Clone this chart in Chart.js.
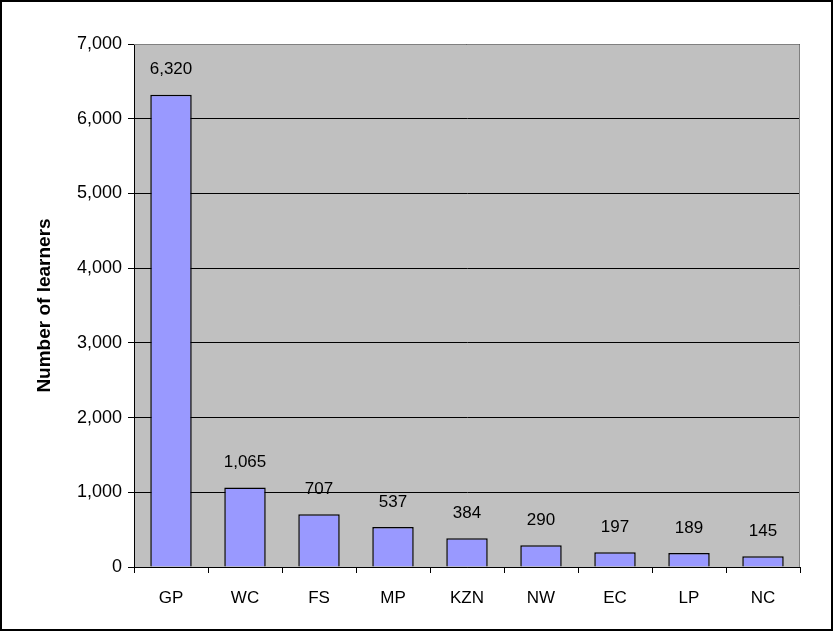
<!DOCTYPE html>
<html>
<head>
<meta charset="utf-8">
<script src="https://cdn.jsdelivr.net/npm/chart.js@4/dist/chart.umd.min.js"></script>
<style>
  html, body { margin: 0; padding: 0; background: #ffffff; }
  #wrap { width: 833px; height: 631px; position: relative; }
</style>
</head>
<body>
<div id="wrap"><canvas id="chart" width="833" height="631"></canvas></div>
<script>
// Learners per province
const provinces = ['GP', 'WC', 'FS', 'MP', 'KZN', 'NW', 'EC', 'LP', 'NC'];
const learners = [6320, 1065, 707, 537, 384, 290, 197, 189, 145];
const yTicks = [0, 1000, 2000, 3000, 4000, 5000, 6000, 7000];
const yTitle = 'Number of learners';

const FONT = '"Liberation Sans", Arial, sans-serif';
const fmt = v => v.toLocaleString('en-US');

// Gray plot background, plot frame, outer frame and value labels
const framePlugin = {
  id: 'frame',
  beforeDraw(chart) {
    const { ctx, chartArea: a } = chart;
    ctx.save();
    ctx.fillStyle = '#ffffff';
    ctx.fillRect(0, 0, chart.width, chart.height);
    ctx.fillStyle = '#c0c0c0';
    ctx.fillRect(a.left, a.top, a.right - a.left, a.bottom - a.top);
    ctx.restore();
  },
  afterDatasetsDraw(chart) {
    const { ctx, chartArea: a } = chart;
    ctx.save();
    ctx.strokeStyle = '#808080';
    ctx.lineWidth = 1;
    ctx.beginPath();
    ctx.moveTo(a.left, a.top + 0.5);
    ctx.lineTo(a.right - 0.5, a.top + 0.5);
    ctx.lineTo(a.right - 0.5, a.bottom);
    ctx.stroke();

    // value labels above bars
    const meta = chart.getDatasetMeta(0);
    ctx.fillStyle = '#000000';
    ctx.font = '17px ' + FONT;
    ctx.textAlign = 'center';
    ctx.textBaseline = 'middle';
    meta.data.forEach((bar, i) => {
      ctx.fillText(fmt(learners[i]), bar.x, bar.y - 25);
    });

    // outer frame
    ctx.strokeStyle = '#000000';
    ctx.lineWidth = 2;
    ctx.strokeRect(1, 1, chart.width - 2, chart.height - 2);
    ctx.restore();
  }
};

new Chart(document.getElementById('chart'), {
  type: 'bar',
  data: {
    labels: provinces,
    datasets: [{
      data: learners,
      backgroundColor: '#9999ff',
      borderColor: '#000000',
      borderWidth: 1.5,
      barPercentage: 0.56,
      categoryPercentage: 1.0
    }]
  },
  options: {
    responsive: false,
    animation: false,
    devicePixelRatio: 1,
    layout: { padding: { left: 0, right: 33, top: 44, bottom: 0 } },
    plugins: {
      legend: { display: false },
      tooltip: { enabled: false }
    },
    scales: {
      x: {
        offset: true,
        grid: {
          offset: true,
          drawOnChartArea: false,
          drawTicks: true,
          tickLength: 6,
          color: '#000000'
        },
        border: { display: true, color: '#000000', width: 1 },
        ticks: {
          color: '#000000',
          font: { family: FONT, size: 17 },
          padding: 15,
          maxRotation: 0
        },
        afterFit(s) { s.height = 64; }
      },
      y: {
        min: 0,
        max: 7000,
        afterBuildTicks(s) { s.ticks = yTicks.map(v => ({ value: v })); },
        grid: {
          color: '#000000',
          lineWidth: 1,
          drawTicks: true,
          tickLength: 6
        },
        border: { display: true, color: '#000000', width: 1 },
        ticks: {
          color: '#000000',
          font: { family: FONT, size: 18 },
          padding: 6,
          callback: v => fmt(v)
        },
        title: {
          display: true,
          text: yTitle,
          color: '#000000',
          font: { family: FONT, size: 19, weight: 'bold' },
          padding: { top: 33, bottom: 0 }
        },
        afterFit(s) { s.width = 134; }
      }
    }
  },
  plugins: [framePlugin]
});
</script>
</body>
</html>
